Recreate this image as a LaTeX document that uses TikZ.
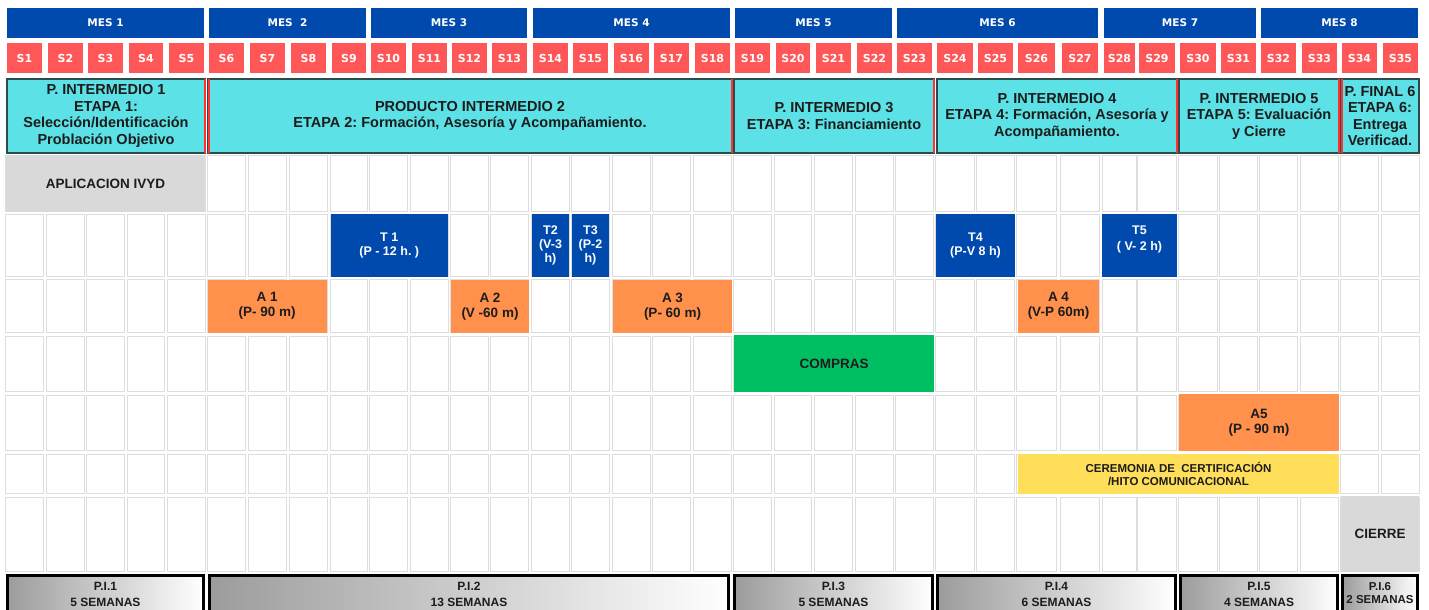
\documentclass[tikz,border=0pt]{standalone}
\usepackage{fontspec}
\setmainfont{Liberation Sans}
\newfontfamily\dejavu{DejaVu Sans}
\usetikzlibrary{shadings}
\frenchspacing
\definecolor{mesblue}{HTML}{004AAD}
\definecolor{sred}{HTML}{FF5757}
\definecolor{etcyan}{HTML}{5CE1E6}
\definecolor{etborder}{HTML}{2E4A4A}
\definecolor{etred}{HTML}{FF3131}
\definecolor{tblue}{HTML}{004AAD}
\definecolor{aorange}{HTML}{FF914D}
\definecolor{cgreen}{HTML}{00BF63}
\definecolor{cyellow}{HTML}{FFDE59}
\definecolor{lgray}{HTML}{D9D9D9}
\definecolor{gridgray}{HTML}{DDDDDD}
\definecolor{pgray}{HTML}{9C9C9C}
\definecolor{darktext}{HTML}{1C1C1C}
\newcommand\placebox[7]{%
  \pgfmathsetmacro\bxcx{(#2+#4)/2}%
  \pgfmathsetmacro\bxcy{(#3+#5)/2}%
  \pgfmathsetmacro\bxw{#4-#2}%
  \pgfmathsetmacro\bxh{#5-#3}%
  \node[#6,minimum width=\bxw pt,minimum height=\bxh pt,inner sep=0pt,outer sep=0pt] (#1) at (\bxcx,\bxcy) {#7};}
\def\cols{1/7/42,2/48/83,3/88/123,4/129/163,5/169/204,6/209/244,7/250/285,8/291/326,9/332/366,10/371/406,11/412/447,12/452/487,13/492/527,14/533/568,15/573/608,16/614/649,17/654/689,18/695/730,19/735/770,20/776/810,21/816/851,22/857/892,23/897/932,24/937/973,25/978/1013,26/1018/1055,27/1062/1098,28/1104/1135,29/1139/1175,30/1180/1216,31/1221/1256,32/1261/1296,33/1302/1337,34/1342/1377,35/1383/1418}
\begin{document}
\begin{tikzpicture}[x=1pt,y=-1pt,
  mesbox/.style={fill=mesblue,text=white,font=\dejavu\bfseries\fontsize{10.5}{12}\selectfont},
  sbox/.style={fill=sred,text=white,font=\dejavu\bfseries\fontsize{11}{12}\selectfont},
  etbox/.style={fill=etcyan,draw=etborder,line width=1.2pt,align=center,text=darktext,font=\bfseries\fontsize{14.5}{16.5}\selectfont},
  redline/.style={draw=etred,line width=2pt},
  gridcell/.style={draw=gridgray,line width=1pt,fill=white},
  tbar/.style={fill=tblue,text=white,align=center,font=\bfseries\fontsize{12.5}{14}\selectfont},
  tlabel/.style={text=white,align=center,inner sep=0pt,font=\bfseries\fontsize{12.5}{16}\selectfont},
  abar/.style={fill=aorange,text=darktext,align=center,font=\bfseries\fontsize{13.5}{15}\selectfont},
  graybar/.style={fill=lgray,text=darktext,align=center,font=\bfseries\fontsize{13.5}{15}\selectfont},
  greenbar/.style={fill=cgreen,text=darktext,align=center,font=\bfseries\fontsize{13.5}{15}\selectfont},
  yellowbar/.style={fill=cyellow,text=darktext,align=center,font=\bfseries\fontsize{11.5}{12.5}\selectfont},
  pibox/.style={draw=black,line width=3pt,left color=pgray,right color=white},
  pilabel/.style={align=center,text=darktext,inner sep=0pt,font=\bfseries\fontsize{12}{16}\selectfont}
]
\useasboundingbox (0,0) rectangle (1429,610);
\fill[white] (0,0) rectangle (1429,610);
% month header
\placebox{mes1}{7}{8}{204}{38}{mesbox}{MES 1}
\placebox{mes2}{209}{8}{366}{38}{mesbox}{MES\ \ 2}
\placebox{mes3}{371}{8}{527}{38}{mesbox}{MES 3}
\placebox{mes4}{533}{8}{730}{38}{mesbox}{MES 4}
\placebox{mes5}{735}{8}{892}{38}{mesbox}{MES 5}
\placebox{mes6}{897}{8}{1098}{38}{mesbox}{MES 6}
\placebox{mes7}{1104}{8}{1256}{38}{mesbox}{MES 7}
\placebox{mes8}{1261}{8}{1418}{38}{mesbox}{MES 8}
% week header
\foreach \i/\l/\r in \cols {\placebox{s\i}{\l}{43}{\r}{73}{sbox}{S\i}}
% stage boxes
\placebox{e1}{7}{79}{205}{153}{etbox}{P. INTERMEDIO 1\\ETAPA 1:\\Selección/Identificación\\Problación Objetivo}
\placebox{e2}{208}{79}{732}{153}{etbox}{PRODUCTO INTERMEDIO 2\\ETAPA 2: Formación, Asesoría y Acompañamiento.}
\placebox{e3}{734}{79}{934}{153}{etbox}{P. INTERMEDIO 3\\ETAPA 3: Financiamiento}
\placebox{e4}{937}{79}{1177}{153}{etbox}{P. INTERMEDIO 4\\ETAPA 4: Formación, Asesoría y\\Acompañamiento.}
\placebox{e5}{1179}{79}{1339}{153}{etbox}{P. INTERMEDIO 5\\ETAPA 5: Evaluación\\y Cierre}
\placebox{e6}{1341}{79}{1419}{153}{etbox}{P. FINAL 6\\ETAPA 6:\\Entrega\\Verificad.}
\draw[redline] ([xshift=-0.5pt]e1.north east) -- ([xshift=-0.5pt]e1.south east);
\draw[redline] ([xshift=0.5pt]e2.north west) -- ([xshift=0.5pt]e2.south west);
\draw[redline] ([xshift=-0.5pt]e2.north east) -- ([xshift=-0.5pt]e2.south east);
\draw[redline] ([xshift=-0.5pt]e3.north east) -- ([xshift=-0.5pt]e3.south east);
\draw[redline] ([xshift=-0.5pt]e4.north east) -- ([xshift=-0.5pt]e4.south east);
\draw[redline] ([xshift=-0.5pt]e5.north east) -- ([xshift=-0.5pt]e5.south east);
\draw[redline] ([xshift=0.5pt]e6.north west) -- ([xshift=0.5pt]e6.south west);
% grid
\foreach \t/\b in {155/212,214/277,279/333,336/392,395/451,454/494,497/572}{
  \foreach \i/\l/\r in \cols {
    \draw[gridcell] ({\l-1.5},{\t+0.5}) rectangle ({\r+1.5},{\b-0.5});
  }
}
% activities
\placebox{ivyd}{6}{155}{205}{212}{graybar}{APLICACION IVYD}
\placebox{t1}{330.5}{214}{448}{277}{tbar}{T 1\\(P - 12 h. )}
\placebox{t2}{532}{214}{569}{277}{tbar}{T2\\(V-3\\h)}
\placebox{t3}{572}{214}{609}{277}{tbar}{T3\\(P-2\\h)}
\placebox{t4}{936}{214}{1015}{277}{tbar}{T4\\(P-V 8 h)}
\placebox{t5}{1102}{214}{1177}{277}{tbar}{}
\node[tlabel] (t5t) at ([yshift=6pt]t5.center) {T5\\( V- 2 h)};
\placebox{a1}{208}{279.5}{326.5}{333}{abar}{A 1\\(P- 90 m)}
\placebox{a2}{451}{279.5}{529}{333}{abar}{A 2\\(V -60 m)}
\placebox{a3}{613}{279.5}{732}{333}{abar}{A 3\\(P- 60 m)}
\placebox{a4}{1018}{279.5}{1099}{333}{abar}{A 4\\(V-P 60m)}
\placebox{compras}{734}{335}{934}{392}{greenbar}{COMPRAS}
\placebox{a5}{1179}{394}{1339}{451}{abar}{A5\\(P - 90 m)}
\placebox{cere}{1018}{454}{1339}{494}{yellowbar}{CEREMONIA DE\ \ CERTIFICACIÓN\\/HITO COMUNICACIONAL}
\placebox{cierre}{1341}{496}{1419}{572}{graybar}{CIERRE}
% bottom summary
\placebox{pi1}{7.5}{575.5}{203.5}{650}{pibox}{}
\placebox{pi2}{209.5}{575.5}{728.5}{650}{pibox}{}
\placebox{pi3}{734.5}{575.5}{932.5}{650}{pibox}{}
\placebox{pi4}{937.5}{575.5}{1175.5}{650}{pibox}{}
\placebox{pi5}{1180.5}{575.5}{1337.5}{650}{pibox}{}
\placebox{pi6}{1342.5}{575.5}{1417.5}{650}{pibox}{}
\node[pilabel] (pi1t) at (105.5,594) {P.I.1\\5 SEMANAS};
\node[pilabel] (pi2t) at (469,594) {P.I.2\\13 SEMANAS};
\node[pilabel] (pi3t) at (833.5,594) {P.I.3\\5 SEMANAS};
\node[pilabel] (pi4t) at (1056.5,594) {P.I.4\\6 SEMANAS};
\node[pilabel] (pi5t) at (1259,594) {P.I.5\\4 SEMANAS};
\node[pilabel,font=\bfseries\fontsize{11.5}{13}\selectfont] (pi6t) at (1380,593) {P.I.6\\2 SEMANAS};
\end{tikzpicture}
\end{document}
